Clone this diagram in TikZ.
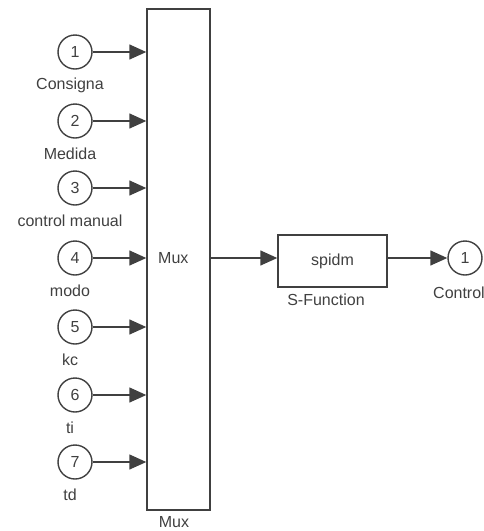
\documentclass[tikz,border=0pt]{standalone}
\usepackage{fontspec}
\setmainfont{Liberation Sans}
\usetikzlibrary{arrows.meta}
\begin{document}
\begin{tikzpicture}[x=1pt,y=-1pt,
  port/.style={draw=black!75,line width=1.4pt,circle,minimum size=34pt,inner sep=0pt,font=\fontsize{16}{16}\selectfont,text=black!75},
  lbl/.style={font=\fontsize{16}{16}\selectfont,inner sep=0pt,text=black!75},
  conn/.style={line width=1.4pt,draw=black!75,-{Triangle[length=17pt,width=15pt]}},
  blk/.style={draw=black!75,line width=1.4pt,inner sep=0pt}]
\useasboundingbox (0,0) rectangle (484,531);
\node[blk,minimum width=63pt,minimum height=501pt] (mux) at (178.5,259.5) {};
\node[lbl,anchor=west] (muxin) at (158,258) {Mux};
\node[lbl] (muxlbl) at (174,522) {Mux};
\foreach \i/\y/\t in {1/52/Consigna,2/121/Medida,3/188/control manual,4/258/modo,5/327/kc,6/395/ti,7/462/td}{
  \node[port] (p\i) at (75,\y) {\i};
  \node[lbl] (l\i) at (70,\y+33) {\t};
  \coordinate (m\i) at (mux.west |- p\i);
  \draw[conn] (p\i) -- (m\i);
}
\node[blk,minimum width=109pt,minimum height=52pt,font=\fontsize{16}{16}\selectfont,text=black!75] (sf) at (332.5,261) {spidm};
\node[lbl] (sflbl) at (326,300) {S-Function};
\node[port] (out) at (465,258) {1};
\node[lbl,anchor=west] (outlbl) at (433,293) {Control};
\draw[conn] (mux.east |- out) -- (sf.west |- out);
\draw[conn] (sf.east |- out) -- (out);
\end{tikzpicture}
\end{document}
